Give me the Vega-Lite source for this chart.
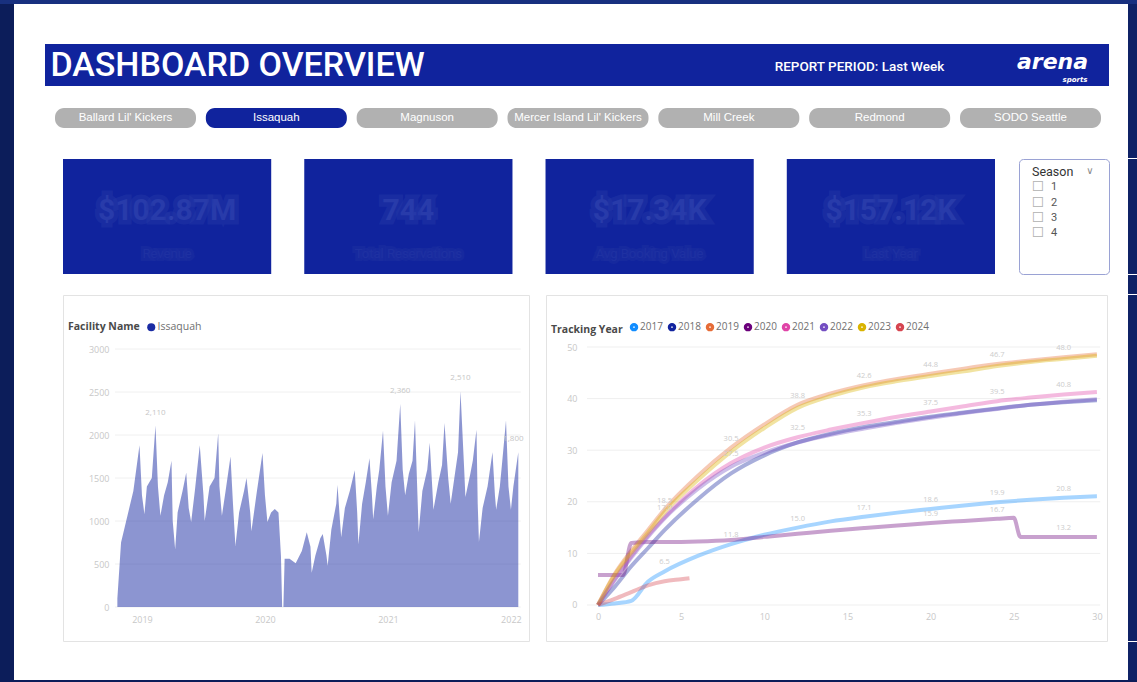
{
  "$schema": "https://vega.github.io/schema/vega-lite/v6.json",
  "background": "white",
  "padding": 0,
  "spacing": 0,
  "resolve": {"scale": {"color": "independent"}, "legend": {"color": "independent"}},
  "config": {
    "font": "Roboto",
    "view": {"stroke": null},
    "concat": {"spacing": 0},
    "point": {"size": 0, "strokeWidth": 0, "filled": true},
    "axis": {"labelFont": "Open Sans"}
  },
  "vconcat": [
    {"width": 1137, "height": 4, "view": {"fill": "#18307f"}, "data": {"values": [{}]}, "mark": {"type": "point", "opacity": 0}, "encoding": {}},
    {
      "spacing": 0,
      "resolve": {"scale": {"color": "independent"}, "legend": {"color": "independent"}},
      "hconcat": [
        {"width": 14, "height": 676, "view": {"fill": "#0c1d5a"}, "data": {"values": [{}]}, "mark": {"type": "point", "opacity": 0}, "encoding": {}},
        {
          "spacing": 0,
          "resolve": {"scale": {"color": "independent"}, "legend": {"color": "independent"}},
          "vconcat": [
            {"spacing": 0, "bounds": "flush", "hconcat": [
              {"width": 1114, "height": 40, "data": {"values": [{}]}, "mark": {"type": "point", "opacity": 0}, "encoding": {}},
              {"width": 9, "height": 40, "view": {"fill": "#0f2266"}, "data": {"values": [{}]}, "mark": {"type": "point", "opacity": 0}, "encoding": {}}
            ]},
            {
              "spacing": 0,
              "bounds": "flush",
              "hconcat": [
                {"width": 31, "height": 42, "data": {"values": [{}]}, "mark": {"type": "point", "opacity": 0}, "encoding": {}},
                {"width": 385, "height": 42, "view": {"fill": "#10239d"}, "data": {"values": [{"text": "DASHBOARD OVERVIEW"}]},
                 "mark": {"type": "text", "font": "Roboto", "fontSize": 34, "fontWeight": 500, "color": "white", "align": "center", "baseline": "middle", "dy": 1},
                 "encoding": {"text": {"field": "text"}}},
                {"width": 334, "height": 42, "view": {"fill": "#10239d"}, "data": {"values": [{}]}, "mark": {"type": "point", "opacity": 0}, "encoding": {}},
                {"width": 191, "height": 42, "view": {"fill": "#10239d"}, "data": {"values": [{"text": "REPORT PERIOD: Last Week"}]},
                 "mark": {"type": "text", "font": "Roboto", "fontSize": 13.5, "fontWeight": 500, "color": "white", "align": "center", "baseline": "alphabetic", "dy": 6},
                 "encoding": {"text": {"field": "text"}}},
                {"width": 41, "height": 42, "view": {"fill": "#10239d"}, "data": {"values": [{}]}, "mark": {"type": "point", "opacity": 0}, "encoding": {}},
                {"width": 113, "height": 42, "view": {"fill": "#10239d"},
                 "data": {"values": [{"brand": "arena", "sub": "sports"}]},
                 "layer": [
                   {"mark": {"type": "text", "font": "DejaVu Sans", "fontSize": 22, "fontWeight": "bold", "fontStyle": "italic", "color": "white", "align": "center", "baseline": "alphabetic", "dy": 4},
                    "encoding": {"text": {"field": "brand"}}},
                   {"mark": {"type": "text", "font": "DejaVu Sans", "fontSize": 7, "fontWeight": "bold", "fontStyle": "italic", "color": "white", "align": "right", "baseline": "alphabetic", "dx": 35, "dy": 17},
                    "encoding": {"text": {"field": "sub"}}}
                 ]},
                {"width": 19, "height": 42, "data": {"values": [{}]}, "mark": {"type": "point", "opacity": 0}, "encoding": {}},
                {"width": 9, "height": 42, "view": {"fill": "#0f2266"}, "data": {"values": [{}]}, "mark": {"type": "point", "opacity": 0}, "encoding": {}}
              ]
            },
            {"spacing": 0, "bounds": "flush", "hconcat": [
              {"width": 1114, "height": 22, "data": {"values": [{}]}, "mark": {"type": "point", "opacity": 0}, "encoding": {}},
              {"width": 9, "height": 22, "view": {"fill": "#0f2266"}, "data": {"values": [{}]}, "mark": {"type": "point", "opacity": 0}, "encoding": {}}
            ]},
            {
              "spacing": 0,
              "bounds": "flush",
              "hconcat": [
                {"width": 41, "height": 20, "data": {"values": [{}]}, "mark": {"type": "point", "opacity": 0}, "encoding": {}},
                {"width": 1046, "height": 20,
                 "data": {"values": [
                   {"facility": "Ballard Lil' Kickers", "selected": "no"},
                   {"facility": "Issaquah", "selected": "yes"},
                   {"facility": "Magnuson", "selected": "no"},
                   {"facility": "Mercer Island Lil' Kickers", "selected": "no"},
                   {"facility": "Mill Creek", "selected": "no"},
                   {"facility": "Redmond", "selected": "no"},
                   {"facility": "SODO Seattle", "selected": "no"}
                 ]},
                 "encoding": {"x": {"field": "facility", "type": "nominal", "sort": null,
                   "scale": {"domain": ["Ballard Lil' Kickers", "Issaquah", "Magnuson", "Mercer Island Lil' Kickers", "Mill Creek", "Redmond", "SODO Seattle"], "paddingInner": 0.0652, "paddingOuter": 0}, "axis": null}},
                 "layer": [
                   {"transform": [{"filter": "datum.selected == 'no'"}], "mark": {"type": "bar", "cornerRadius": 9, "color": "#b1b1b1"}},
                   {"transform": [{"filter": "datum.selected == 'yes'"}], "mark": {"type": "bar", "cornerRadius": 9, "color": "#10239d"}},
                   {"mark": {"type": "text", "font": "Liberation Sans", "fontSize": 11.5, "color": "white"},
                    "encoding": {"text": {"field": "facility"}}}
                 ]},
                {"width": 27, "height": 20, "data": {"values": [{}]}, "mark": {"type": "point", "opacity": 0}, "encoding": {}},
                {"width": 9, "height": 20, "view": {"fill": "#0f2266"}, "data": {"values": [{}]}, "mark": {"type": "point", "opacity": 0}, "encoding": {}}
              ]
            },
            {"spacing": 0, "bounds": "flush", "hconcat": [
              {"width": 1114, "height": 30, "data": {"values": [{}]}, "mark": {"type": "point", "opacity": 0}, "encoding": {}},
              {"width": 9, "height": 30, "view": {"fill": "#0f2266"}, "data": {"values": [{}]}, "mark": {"type": "point", "opacity": 0}, "encoding": {}}
            ]},
            {
              "spacing": 0,
              "bounds": "flush",
              "hconcat": [
                {"width": 49, "height": 115, "data": {"values": [{}]}, "mark": {"type": "point", "opacity": 0}, "encoding": {}},
                {"width": 932, "height": 115,
                 "data": {"values": [
                   {"tile": "A", "kpi": "$102.87M", "label": "Revenue"},
                   {"tile": "B", "kpi": "744", "label": "Total Reservations"},
                   {"tile": "C", "kpi": "$17.34K", "label": "Avg Booking Value"},
                   {"tile": "D", "kpi": "$157.12K", "label": "Last Year"}
                 ]},
                 "encoding": {"x": {"field": "tile", "type": "nominal", "sort": null, "scale": {"paddingInner": 0.137, "paddingOuter": 0}, "axis": null}},
                 "layer": [
                   {"mark": {"type": "bar", "color": "#10239d"}},
                   {"mark": {"type": "text", "font": "Roboto", "fontSize": 30, "fontWeight": "bold", "color": "#5064c2", "opacity": 0.45, "stroke": "#3a4eb2", "strokeWidth": 9, "strokeOpacity": 0.5, "dy": -6},
                    "encoding": {"text": {"field": "kpi"}}},
                   {"mark": {"type": "text", "font": "Roboto", "fontSize": 13, "color": "#3044ab", "opacity": 0.55, "stroke": "#2739a4", "strokeWidth": 6, "strokeOpacity": 0.5, "dy": 37},
                    "encoding": {"text": {"field": "label"}}}
                 ]},
                {"width": 24, "height": 115, "data": {"values": [{}]}, "mark": {"type": "point", "opacity": 0}, "encoding": {}},
                {"width": 90, "height": 115,
                 "view": {"fill": "white", "stroke": "#9aa2d4", "cornerRadius": 4},
                 "data": {"values": [{"item": "Season"}, {"item": "1"}, {"item": "2"}, {"item": "3"}, {"item": "4"}]},
                 "encoding": {"y": {"field": "item", "type": "ordinal", "sort": null, "scale": {"type": "point", "range": [13, 74], "padding": 0}, "axis": null}},
                 "layer": [
                   {"transform": [{"filter": "datum.item == 'Season'"}],
                    "mark": {"type": "text", "font": "Roboto", "fontSize": 12.5, "color": "#333333", "align": "left", "dx": -32},
                    "encoding": {"text": {"field": "item"}}},
                   {"transform": [{"filter": "datum.item == 'Season'"}],
                    "mark": {"type": "text", "font": "DejaVu Sans", "fontSize": 10, "color": "#8a8a8a", "text": "∨", "dx": 26, "dy": -1}},
                   {"transform": [{"filter": "datum.item != 'Season'"}],
                    "mark": {"type": "text", "font": "DejaVu Sans", "fontSize": 14, "color": "#b0b0b0", "text": "☐", "dx": -26}},
                   {"transform": [{"filter": "datum.item != 'Season'"}],
                    "mark": {"type": "text", "font": "Roboto", "fontSize": 11, "color": "#555555", "align": "left", "dx": -13},
                    "encoding": {"text": {"field": "item"}}}
                 ]},
                {"width": 19, "height": 115, "data": {"values": [{}]}, "mark": {"type": "point", "opacity": 0}, "encoding": {}},
                {"width": 9, "height": 115, "view": {"fill": "#0f2266"}, "data": {"values": [{}]}, "mark": {"type": "point", "opacity": 0}, "encoding": {}}
              ]
            },
            {"spacing": 0, "bounds": "flush", "hconcat": [
              {"width": 1114, "height": 19, "data": {"values": [{}]}, "mark": {"type": "point", "opacity": 0}, "encoding": {}},
              {"width": 9, "height": 19, "view": {"fill": "#0f2266"}, "data": {"values": [{}]}, "mark": {"type": "point", "opacity": 0}, "encoding": {}}
            ]},
            {
              "spacing": 0,
              "bounds": "flush",
              "resolve": {"scale": {"color": "independent"}, "legend": {"color": "independent"}},
              "hconcat": [
                {"width": 49, "height": 346, "data": {"values": [{}]}, "mark": {"type": "point", "opacity": 0}, "encoding": {}},
                {"width": 466, "height": 346,
                 "view": {"fill": "white", "stroke": "#e3e3e3"},
                 "layer": [
                   {"data": {"values": [{"grid": 0}, {"grid": 500}, {"grid": 1000}, {"grid": 1500}, {"grid": 2000}, {"grid": 2500}, {"grid": 3000}]},
                    "mark": {"type": "rule", "color": "#f0f0f0", "strokeWidth": 1},
                    "encoding": {
                      "y": {"field": "grid", "type": "quantitative", "scale": {"domain": [-395, 3628], "nice": false, "zero": false},
                            "axis": {"values": [0, 500, 1000, 1500, 2000, 2500, 3000], "format": "d", "offset": -50, "labelPadding": 4, "tickSize": 0, "ticks": false, "domain": false, "grid": false, "title": null, "labelColor": "#c8c8c8", "labelFontSize": 9}},
                      "x": {"datum": 2018.78, "type": "quantitative", "scale": {"domain": [2018.358, 2022.147], "nice": false, "zero": false},
                            "axis": {"values": [2019, 2020, 2021, 2022], "format": "d", "orient": "bottom", "offset": -30, "labelPadding": 4, "tickSize": 0, "ticks": false, "domain": false, "grid": false, "title": null, "labelColor": "#c8c8c8", "labelFontSize": 9}},
                      "x2": {"datum": 2022.08}
                    }},
                   {"data": {"values": [
                     {"year": 2018.80, "visitors": 100}, {"year": 2018.83, "visitors": 750}, {"year": 2018.88, "visitors": 1050}, {"year": 2018.93, "visitors": 1350},
                     {"year": 2018.98, "visitors": 1880}, {"year": 2019.00, "visitors": 1300}, {"year": 2019.02, "visitors": 1080}, {"year": 2019.04, "visitors": 1400},
                     {"year": 2019.08, "visitors": 1500}, {"year": 2019.11, "visitors": 2110}, {"year": 2019.13, "visitors": 1400}, {"year": 2019.15, "visitors": 1060},
                     {"year": 2019.18, "visitors": 1300}, {"year": 2019.21, "visitors": 1450}, {"year": 2019.24, "visitors": 1700}, {"year": 2019.25, "visitors": 1000},
                     {"year": 2019.27, "visitors": 670}, {"year": 2019.29, "visitors": 1100}, {"year": 2019.33, "visitors": 1350}, {"year": 2019.36, "visitors": 1560},
                     {"year": 2019.38, "visitors": 1150}, {"year": 2019.40, "visitors": 990}, {"year": 2019.43, "visitors": 1350}, {"year": 2019.47, "visitors": 1880},
                     {"year": 2019.50, "visitors": 1300}, {"year": 2019.51, "visitors": 1000}, {"year": 2019.55, "visitors": 1400}, {"year": 2019.59, "visitors": 1500},
                     {"year": 2019.62, "visitors": 2020}, {"year": 2019.63, "visitors": 1400}, {"year": 2019.65, "visitors": 1060}, {"year": 2019.68, "visitors": 1350},
                     {"year": 2019.72, "visitors": 1750}, {"year": 2019.74, "visitors": 1200}, {"year": 2019.76, "visitors": 710}, {"year": 2019.79, "visitors": 1100},
                     {"year": 2019.83, "visitors": 1350}, {"year": 2019.85, "visitors": 1500}, {"year": 2019.88, "visitors": 1100}, {"year": 2019.89, "visitors": 880},
                     {"year": 2019.93, "visitors": 1300}, {"year": 2019.98, "visitors": 1790}, {"year": 2020.00, "visitors": 1300}, {"year": 2020.02, "visitors": 990},
                     {"year": 2020.05, "visitors": 1100}, {"year": 2020.08, "visitors": 1140}, {"year": 2020.11, "visitors": 1100}, {"year": 2020.13, "visitors": 600},
                     {"year": 2020.14, "visitors": 0}, {"year": 2020.15, "visitors": 0}, {"year": 2020.16, "visitors": 560}, {"year": 2020.20, "visitors": 560},
                     {"year": 2020.25, "visitors": 510}, {"year": 2020.30, "visitors": 650}, {"year": 2020.34, "visitors": 870}, {"year": 2020.37, "visitors": 700},
                     {"year": 2020.38, "visitors": 400}, {"year": 2020.41, "visitors": 600}, {"year": 2020.45, "visitors": 800}, {"year": 2020.47, "visitors": 850},
                     {"year": 2020.50, "visitors": 600}, {"year": 2020.51, "visitors": 480}, {"year": 2020.54, "visitors": 900}, {"year": 2020.58, "visitors": 1200},
                     {"year": 2020.59, "visitors": 1420}, {"year": 2020.61, "visitors": 1000}, {"year": 2020.62, "visitors": 810}, {"year": 2020.65, "visitors": 1150},
                     {"year": 2020.69, "visitors": 1350}, {"year": 2020.73, "visitors": 1590}, {"year": 2020.75, "visitors": 1100}, {"year": 2020.76, "visitors": 730},
                     {"year": 2020.79, "visitors": 1200}, {"year": 2020.82, "visitors": 1450}, {"year": 2020.85, "visitors": 1730}, {"year": 2020.87, "visitors": 1300},
                     {"year": 2020.88, "visitors": 1020}, {"year": 2020.91, "visitors": 1400}, {"year": 2020.93, "visitors": 1600}, {"year": 2020.96, "visitors": 2050},
                     {"year": 2020.98, "visitors": 1400}, {"year": 2021.00, "visitors": 1060}, {"year": 2021.03, "visitors": 1450}, {"year": 2021.07, "visitors": 1700},
                     {"year": 2021.10, "visitors": 2360}, {"year": 2021.12, "visitors": 1600}, {"year": 2021.14, "visitors": 1300}, {"year": 2021.17, "visitors": 1550},
                     {"year": 2021.20, "visitors": 1700}, {"year": 2021.22, "visitors": 2170}, {"year": 2021.24, "visitors": 1300}, {"year": 2021.25, "visitors": 870},
                     {"year": 2021.28, "visitors": 1350}, {"year": 2021.32, "visitors": 1600}, {"year": 2021.34, "visitors": 1910}, {"year": 2021.36, "visitors": 1400},
                     {"year": 2021.37, "visitors": 1130}, {"year": 2021.41, "visitors": 1450}, {"year": 2021.44, "visitors": 1650}, {"year": 2021.46, "visitors": 2140},
                     {"year": 2021.49, "visitors": 1500}, {"year": 2021.51, "visitors": 1200}, {"year": 2021.54, "visitors": 1500}, {"year": 2021.57, "visitors": 1800},
                     {"year": 2021.59, "visitors": 2510}, {"year": 2021.62, "visitors": 1600}, {"year": 2021.63, "visitors": 1280}, {"year": 2021.67, "visitors": 1550},
                     {"year": 2021.69, "visitors": 1700}, {"year": 2021.72, "visitors": 2060}, {"year": 2021.73, "visitors": 1200}, {"year": 2021.74, "visitors": 755},
                     {"year": 2021.77, "visitors": 1150}, {"year": 2021.81, "visitors": 1400}, {"year": 2021.85, "visitors": 1800}, {"year": 2021.87, "visitors": 1300},
                     {"year": 2021.88, "visitors": 1130}, {"year": 2021.91, "visitors": 1400}, {"year": 2021.93, "visitors": 1700}, {"year": 2021.96, "visitors": 2170},
                     {"year": 2021.98, "visitors": 1400}, {"year": 2022.00, "visitors": 1130}, {"year": 2022.02, "visitors": 1400}, {"year": 2022.06, "visitors": 1800}
                   ]},
                    "mark": {"type": "area", "opacity": 0.5},
                    "encoding": {
                      "x": {"field": "year", "type": "quantitative"},
                      "y": {"field": "visitors", "type": "quantitative"},
                      "y2": {"datum": 0},
                      "color": {"datum": "Issaquah", "type": "nominal", "scale": {"range": ["#1a2ba3"]},
                                "legend": {"title": "Facility Name", "orient": "none", "legendX": 5, "legendY": 27, "direction": "horizontal", "titleOrient": "left", "titleFont": "Open Sans", "titleFontSize": 10.5, "titleFontWeight": "bold", "titleColor": "#4a4a4a", "titlePadding": 6, "labelFont": "Open Sans", "labelFontSize": 10.5, "labelColor": "#707070", "labelOffset": 1, "symbolType": "circle", "symbolSize": 65, "symbolOpacity": 1, "symbolStrokeWidth": 0}}
                    }},
                   {"data": {"values": [
                     {"year": 2019.11, "visitors": 2110}, {"year": 2021.10, "visitors": 2360}, {"year": 2021.59, "visitors": 2510}, {"year": 2022.02, "visitors": 1800}
                   ]},
                    "mark": {"type": "text", "dy": -13, "fontSize": 8, "color": "#c6c6c6", "font": "Open Sans"},
                    "encoding": {
                      "x": {"field": "year", "type": "quantitative"},
                      "y": {"field": "visitors", "type": "quantitative"},
                      "text": {"field": "visitors", "type": "quantitative", "format": ","}
                    }}
                 ]},
                {"width": 17, "height": 346, "data": {"values": [{}]}, "mark": {"type": "point", "opacity": 0}, "encoding": {}},
                {"width": 561, "height": 346,
                 "view": {"fill": "white", "stroke": "#e3e3e3"},
                 "layer": [
                   {"data": {"values": [{"grid": 0}, {"grid": 10}, {"grid": 20}, {"grid": 30}, {"grid": 40}, {"grid": 50}]},
                    "mark": {"type": "rule", "color": "#efefef", "strokeWidth": 1},
                    "encoding": {
                      "y": {"field": "grid", "type": "quantitative", "scale": {"domain": [-6.98, 60.08], "nice": false, "zero": false},
                            "axis": {"values": [0, 10, 20, 30, 40, 50], "offset": -40, "labelPadding": 9, "tickSize": 0, "ticks": false, "domain": false, "grid": false, "title": null, "labelColor": "#c8c8c8", "labelFontSize": 9}},
                      "x": {"datum": -0.66, "type": "quantitative", "scale": {"domain": [-3.127, 30.607], "nice": false, "zero": false},
                            "axis": {"values": [0, 5, 10, 15, 20, 25, 30], "orient": "bottom", "offset": -30, "labelPadding": 1, "tickSize": 0, "ticks": false, "domain": false, "grid": false, "title": null, "labelColor": "#c8c8c8", "labelFontSize": 9}},
                      "x2": {"datum": 30.2}
                    }},
                   {"data": {"values": [
                     {"year": "2017", "week": 0, "value": 0}, {"year": "2017", "week": 1, "value": 0.3}, {"year": "2017", "week": 2, "value": 0.8}, {"year": "2017", "week": 3, "value": 4.5},
                     {"year": "2017", "week": 4, "value": 6.5}, {"year": "2017", "week": 6, "value": 9.5}, {"year": "2017", "week": 8, "value": 11.8}, {"year": "2017", "week": 10, "value": 13.6},
                     {"year": "2017", "week": 12, "value": 15}, {"year": "2017", "week": 14, "value": 16.2}, {"year": "2017", "week": 16, "value": 17.1}, {"year": "2017", "week": 18, "value": 17.9},
                     {"year": "2017", "week": 20, "value": 18.6}, {"year": "2017", "week": 22, "value": 19.3}, {"year": "2017", "week": 24, "value": 19.9}, {"year": "2017", "week": 26, "value": 20.4},
                     {"year": "2017", "week": 28, "value": 20.8}, {"year": "2017", "week": 30, "value": 21.1},
                     {"year": "2018", "week": 0, "value": 0}, {"year": "2018", "week": 1, "value": 3.5}, {"year": "2018", "week": 2, "value": 7.5}, {"year": "2018", "week": 3, "value": 11},
                     {"year": "2018", "week": 4, "value": 14.5}, {"year": "2018", "week": 6, "value": 20.5}, {"year": "2018", "week": 8, "value": 25.5}, {"year": "2018", "week": 10, "value": 29},
                     {"year": "2018", "week": 12, "value": 31.5}, {"year": "2018", "week": 14, "value": 33.2}, {"year": "2018", "week": 16, "value": 34.5}, {"year": "2018", "week": 18, "value": 35.5},
                     {"year": "2018", "week": 20, "value": 36.5}, {"year": "2018", "week": 22, "value": 37.3}, {"year": "2018", "week": 24, "value": 38.1}, {"year": "2018", "week": 26, "value": 38.8},
                     {"year": "2018", "week": 28, "value": 39.3}, {"year": "2018", "week": 30, "value": 39.7},
                     {"year": "2019", "week": 0, "value": 0}, {"year": "2019", "week": 1, "value": 6}, {"year": "2019", "week": 2, "value": 10.5}, {"year": "2019", "week": 3, "value": 14.5},
                     {"year": "2019", "week": 4, "value": 18.5}, {"year": "2019", "week": 6, "value": 25}, {"year": "2019", "week": 8, "value": 30.5}, {"year": "2019", "week": 10, "value": 35},
                     {"year": "2019", "week": 12, "value": 38.8}, {"year": "2019", "week": 14, "value": 41}, {"year": "2019", "week": 16, "value": 42.6}, {"year": "2019", "week": 18, "value": 43.8},
                     {"year": "2019", "week": 20, "value": 44.8}, {"year": "2019", "week": 22, "value": 45.8}, {"year": "2019", "week": 24, "value": 46.7}, {"year": "2019", "week": 26, "value": 47.4},
                     {"year": "2019", "week": 28, "value": 48}, {"year": "2019", "week": 30, "value": 48.6},
                     {"year": "2020", "week": 0, "value": 5.8}, {"year": "2020", "week": 1.5, "value": 5.8}, {"year": "2020", "week": 2, "value": 12}, {"year": "2020", "week": 3, "value": 12.2},
                     {"year": "2020", "week": 4, "value": 12.2}, {"year": "2020", "week": 6, "value": 12.3}, {"year": "2020", "week": 8, "value": 12.6}, {"year": "2020", "week": 10, "value": 13.2},
                     {"year": "2020", "week": 12, "value": 13.8}, {"year": "2020", "week": 14, "value": 14.4}, {"year": "2020", "week": 16, "value": 14.9}, {"year": "2020", "week": 18, "value": 15.4},
                     {"year": "2020", "week": 20, "value": 15.9}, {"year": "2020", "week": 22, "value": 16.3}, {"year": "2020", "week": 24, "value": 16.7}, {"year": "2020", "week": 25, "value": 16.9},
                     {"year": "2020", "week": 25.4, "value": 13.2}, {"year": "2020", "week": 26, "value": 13.2}, {"year": "2020", "week": 28, "value": 13.2}, {"year": "2020", "week": 30, "value": 13.2},
                     {"year": "2021", "week": 0, "value": 0}, {"year": "2021", "week": 1, "value": 5}, {"year": "2021", "week": 2, "value": 9.5}, {"year": "2021", "week": 3, "value": 13.5},
                     {"year": "2021", "week": 4, "value": 17}, {"year": "2021", "week": 6, "value": 23}, {"year": "2021", "week": 8, "value": 27.5}, {"year": "2021", "week": 10, "value": 30.5},
                     {"year": "2021", "week": 12, "value": 32.5}, {"year": "2021", "week": 14, "value": 34}, {"year": "2021", "week": 16, "value": 35.3}, {"year": "2021", "week": 18, "value": 36.5},
                     {"year": "2021", "week": 20, "value": 37.5}, {"year": "2021", "week": 22, "value": 38.5}, {"year": "2021", "week": 24, "value": 39.5}, {"year": "2021", "week": 26, "value": 40.2},
                     {"year": "2021", "week": 28, "value": 40.8}, {"year": "2021", "week": 30, "value": 41.3},
                     {"year": "2022", "week": 0, "value": 0}, {"year": "2022", "week": 1, "value": 4.8}, {"year": "2022", "week": 2, "value": 9.2}, {"year": "2022", "week": 3, "value": 13.2},
                     {"year": "2022", "week": 4, "value": 16.8}, {"year": "2022", "week": 6, "value": 22.5}, {"year": "2022", "week": 8, "value": 26.8}, {"year": "2022", "week": 10, "value": 29.5},
                     {"year": "2022", "week": 12, "value": 31.5}, {"year": "2022", "week": 14, "value": 33}, {"year": "2022", "week": 16, "value": 34.2}, {"year": "2022", "week": 18, "value": 35.3},
                     {"year": "2022", "week": 20, "value": 36.3}, {"year": "2022", "week": 22, "value": 37.2}, {"year": "2022", "week": 24, "value": 38}, {"year": "2022", "week": 26, "value": 38.8},
                     {"year": "2022", "week": 28, "value": 39.4}, {"year": "2022", "week": 30, "value": 39.9},
                     {"year": "2023", "week": 0, "value": 0}, {"year": "2023", "week": 1, "value": 5.8}, {"year": "2023", "week": 2, "value": 10.1}, {"year": "2023", "week": 3, "value": 14},
                     {"year": "2023", "week": 4, "value": 18}, {"year": "2023", "week": 6, "value": 24.2}, {"year": "2023", "week": 8, "value": 29.7}, {"year": "2023", "week": 10, "value": 34.3},
                     {"year": "2023", "week": 12, "value": 38.2}, {"year": "2023", "week": 14, "value": 40.5}, {"year": "2023", "week": 16, "value": 42.2}, {"year": "2023", "week": 18, "value": 43.4},
                     {"year": "2023", "week": 20, "value": 44.4}, {"year": "2023", "week": 22, "value": 45.3}, {"year": "2023", "week": 24, "value": 46.3}, {"year": "2023", "week": 26, "value": 47.1},
                     {"year": "2023", "week": 28, "value": 47.7}, {"year": "2023", "week": 30, "value": 48.3},
                     {"year": "2024", "week": 0, "value": 0}, {"year": "2024", "week": 1, "value": 1.2}, {"year": "2024", "week": 2, "value": 2.5}, {"year": "2024", "week": 3, "value": 3.8},
                     {"year": "2024", "week": 4, "value": 4.6}, {"year": "2024", "week": 5, "value": 5}, {"year": "2024", "week": 5.5, "value": 5.2}
                   ]},
                    "layer": [
                      {"mark": {"type": "line", "strokeWidth": 4, "opacity": 0.37, "interpolate": "monotone"},
                       "encoding": {
                         "x": {"field": "week", "type": "quantitative"},
                         "y": {"field": "value", "type": "quantitative"},
                         "color": {"field": "year", "type": "nominal",
                                   "scale": {"domain": ["2017", "2018", "2019", "2020", "2021", "2022", "2023", "2024"], "range": ["#118DFF", "#12239E", "#E66C37", "#6B007B", "#E044A7", "#744EC2", "#D9B300", "#D64550"]},
                                   "legend": {"title": "Tracking Year", "orient": "none", "legendX": 5, "legendY": 27, "direction": "horizontal", "titleOrient": "left", "titleFont": "Open Sans", "titleFontSize": 10.5, "titleFontWeight": "bold", "titleColor": "#4a4a4a", "titlePadding": 6, "labelFont": "Open Sans", "labelFontSize": 10, "labelColor": "#707070", "labelOffset": 1, "columnPadding": -3, "symbolType": "circle", "symbolSize": 12, "symbolStrokeWidth": 5, "symbolOpacity": 1}}
                       }},
                      {"transform": [{"filter": {"or": [
                         {"and": [{"field": "year", "oneOf": ["2017", "2019", "2021"]}, {"field": "week", "oneOf": [4, 8, 12, 16, 20, 24, 28]}]},
                         {"and": [{"field": "year", "equal": "2020"}, {"field": "week", "oneOf": [20, 24, 28]}]}
                       ]}}],
                       "mark": {"type": "text", "dy": -9, "fontSize": 7.5, "color": "#cccccc", "font": "Open Sans"},
                       "encoding": {
                         "x": {"field": "week", "type": "quantitative"},
                         "y": {"field": "value", "type": "quantitative"},
                         "text": {"field": "value", "type": "quantitative", "format": ".1f"}}}
                    ]}
                 ]},
                {"width": 21, "height": 346, "data": {"values": [{}]}, "mark": {"type": "point", "opacity": 0}, "encoding": {}},
                {"width": 9, "height": 346, "view": {"fill": "#0f2266"}, "data": {"values": [{}]}, "mark": {"type": "point", "opacity": 0}, "encoding": {}}
              ]
            },
            {"spacing": 0, "bounds": "flush", "hconcat": [
              {"width": 1114, "height": 38, "data": {"values": [{}]}, "mark": {"type": "point", "opacity": 0}, "encoding": {}},
              {"width": 9, "height": 38, "view": {"fill": "#0f2266"}, "data": {"values": [{}]}, "mark": {"type": "point", "opacity": 0}, "encoding": {}}
            ]}
          ]
        }
      ]
    },
    {"width": 1137, "height": 2, "view": {"fill": "#0c1d5a"}, "data": {"values": [{}]}, "mark": {"type": "point", "opacity": 0}, "encoding": {}}
  ]
}
